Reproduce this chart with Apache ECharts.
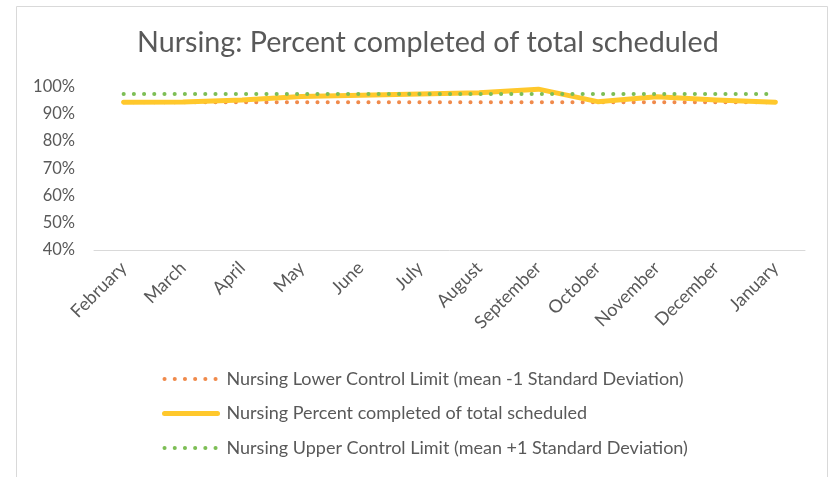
<!DOCTYPE html>
<html>
<head>
<meta charset="utf-8">
<script src="https://cdn.jsdelivr.net/npm/echarts@6/dist/echarts.min.js"></script>
<style>
  html, body { margin: 0; padding: 0; background: #fff; }
  #chart { width: 836px; height: 477px; }
</style>
</head>
<body>
<div id="chart"></div>
<script>
	var months = ['February','March','April','May','June','July','August','September','October','November','December','January'];
	var lowerLimit = [94.3,94.3,94.3,94.3,94.3,94.3,94.3,94.3,94.3,94.3,94.3,94.3];
	var percentDone = [94.3,94.4,95.1,96.4,96.9,97.3,97.8,99.1,94.5,96.3,95.1,94.3];
	var upperLimit = [97.3,97.3,97.3,97.3,97.3,97.3,97.3,97.3,97.3,97.3,97.3,97.3];
	var yTicks = [40,50,60,70,80,90,100];

	var txt = '#595959';
	var font = 'Lato';
	var names = [
		'Nursing Lower Control Limit (mean -1 Standard Deviation)',
		'Nursing Percent completed of total scheduled',
		'Nursing Upper Control Limit (mean +1 Standard Deviation)'
	];

	var chart = echarts.init(document.getElementById('chart'));
	var option = {
		animation: false,
		textStyle: { fontFamily: font },
		graphic: [{
			type: 'rect',
			shape: { x: 16.5, y: 6.5, width: 811, height: 490 },
			style: { fill: 'none', stroke: '#d9d9d9', lineWidth: 1 },
			silent: true
		}],
		title: {
			text: 'Nursing: Percent completed of total scheduled',
			left: 132,
			top: 23,
			textStyle: { color: txt, fontSize: 28.7, fontWeight: 'normal', fontFamily: font }
		},
		grid: { left: 94, right: 31, top: 86.7, bottom: 227 },
		xAxis: {
			type: 'category',
			data: months,
			boundaryGap: true,
			axisLine: { lineStyle: { color: '#d9d9d9', width: 1 } },
			axisTick: { show: false },
			axisLabel: {
				interval: 0,
				rotate: 45,
				margin: 15,
				color: txt,
				fontSize: 18,
				fontFamily: font
			}
		},
		yAxis: {
			type: 'value',
			min: yTicks[0],
			max: yTicks[yTicks.length-1],
			interval: 10,
			axisLine: { show: false },
			axisTick: { show: false },
			splitLine: { show: false },
			axisLabel: {
				formatter: '{value}%',
				color: txt,
				fontSize: 16.5,
				margin: 19,
				fontFamily: font
			}
		},
		legend: {
			orient: 'vertical',
			left: 157,
			top: 365,
			itemWidth: 53,
			itemHeight: 14,
			itemGap: 16.5,
			itemStyle: { opacity: 0 },
			lineStyle: { width: 4 },
			textStyle: { color: txt, fontSize: 18, fontFamily: font, padding: [0,0,0,4] },
			data: [
				{ name: names[0] },
				{ name: names[1], lineStyle: { width: 5 } },
				{ name: names[2] }
			]
		},
		series: [
			{
				name: names[0],
				type: 'line',
				data: lowerLimit,
				symbol: 'none',
				lineStyle: { color: '#F08A4B', width: 4, type: [0.1, 10.1], cap: 'round' },
				itemStyle: { color: '#F08A4B' },
				z: 2
			},
			{
				name: names[1],
				type: 'line',
				data: percentDone,
				symbol: 'none',
				lineStyle: { color: '#FFC82C', width: 5, cap: 'round', join: 'round' },
				itemStyle: { color: '#FFC82C' },
				z: 3
			},
			{
				name: names[2],
				type: 'line',
				data: upperLimit,
				symbol: 'none',
				lineStyle: { color: '#7DBE55', width: 4, type: [0.1, 10.1], cap: 'round' },
				itemStyle: { color: '#7DBE55' },
				z: 4
			}
		]
	};
	chart.setOption(option);
</script>
</body>
</html>
